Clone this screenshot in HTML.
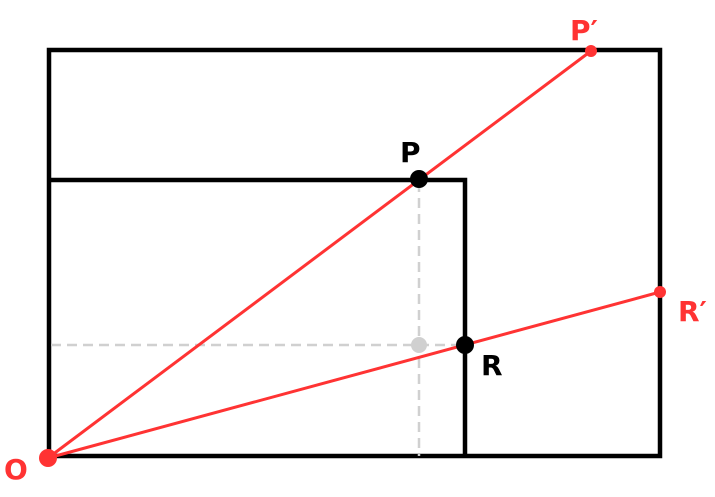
<!DOCTYPE html>
<html><head><style>html,body{margin:0;padding:0;background:#fff;width:715px;height:497px;overflow:hidden}</style></head>
<body>
<svg width="715" height="497" xmlns="http://www.w3.org/2000/svg" font-family="'DejaVu Sans','Liberation Sans',sans-serif" font-weight="bold">
<rect x="49" y="50" width="611" height="406" fill="none" stroke="#000" stroke-width="4.5"/>
<polyline points="49,180 465,180 465,456" fill="none" stroke="#000" stroke-width="4.5"/>
<line x1="419" y1="182" x2="419" y2="456" stroke="#d0d0d0" stroke-width="2.5" stroke-dasharray="10,6"/>
<line x1="51" y1="345" x2="465" y2="345" stroke="#d0d0d0" stroke-width="2.5" stroke-dasharray="10,6"/>
<circle cx="419" cy="345" r="8" fill="#d0d0d0"/>
<line x1="48" y1="458" x2="591" y2="51" stroke="#ff3333" stroke-width="3"/>
<line x1="48" y1="458" x2="660" y2="292" stroke="#ff3333" stroke-width="3"/>
<circle cx="419" cy="179" r="9" fill="#000"/>
<circle cx="465" cy="345" r="9" fill="#000"/>
<circle cx="591" cy="51" r="6" fill="#ff3333"/>
<circle cx="660" cy="292" r="6" fill="#ff3333"/>
<circle cx="48" cy="458" r="9" fill="#ff3333"/>
<text x="400" y="162" font-size="28" fill="#000">P</text>
<text x="481" y="375" font-size="28" fill="#000">R</text>
<text x="570" y="40" font-size="28" fill="#ff3333">P′</text>
<text x="678" y="321" font-size="28" fill="#ff3333">R′</text>
<text x="4" y="479" font-size="28" fill="#ff3333">O</text>
</svg>
</body></html>
